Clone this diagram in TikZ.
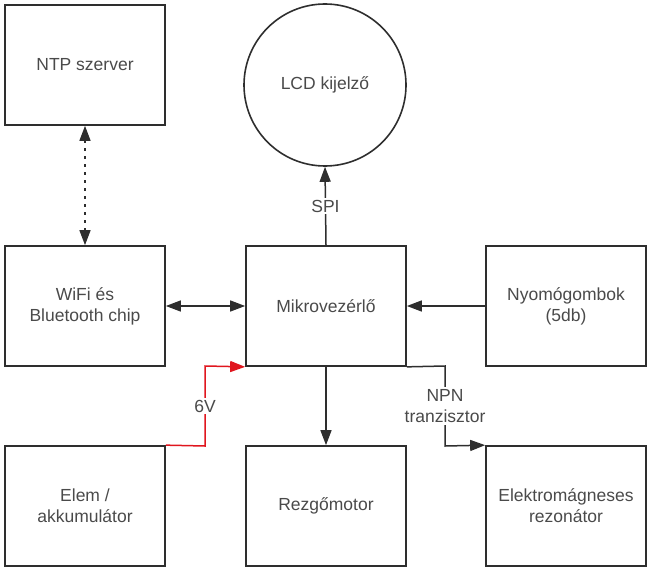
\documentclass[tikz,border=0pt]{standalone}
\usepackage{fontspec}
\setmainfont{Liberation Sans}
\usetikzlibrary{arrows.meta}
\definecolor{ln}{HTML}{2E2E2E}
\definecolor{tx}{HTML}{4A4A4A}
\definecolor{rd}{HTML}{E0161E}
\begin{document}
\begin{tikzpicture}[x=1pt,y=-1pt,
  every node/.style={text=tx,font=\fontsize{17.5}{21}\selectfont,align=center},
  blk/.style={draw=ln,line width=1.7pt,minimum width=160pt,minimum height=120pt,inner sep=0pt},
  conn/.style={draw=ln,line width=1.5pt,-{Triangle[length=15pt,width=11pt]}},
  lbl/.style={fill=white,inner sep=2pt}]
\useasboundingbox (0,0) rectangle (652,572);
\node[blk] (ntp) at (85,65) {NTP szerver};
\node[draw=ln,line width=1.6pt,circle,minimum size=162pt,inner sep=0pt] (lcd) at (325,85) {LCD kijelző};
\node[blk] (wifi) at (85,306) {WiFi és\\Bluetooth chip};
\node[blk] (mcu) at (326,306) {Mikrovezérlő};
\node[blk] (btn) at (566,306) {Nyomógombok\\(5db)};
\node[blk] (bat) at (85,506) {Elem /\\akkumulátor};
\node[blk] (mot) at (326,506) {Rezgőmotor};
\node[blk] (res) at (566,506) {Elektromágneses\\rezonátor};
\coordinate (c1) at (205,446);
\coordinate (c2) at (205,366);
\coordinate (n1) at (445,366);
\coordinate (n2) at (445,446);
% NTP <-> WiFi dotted
\draw[draw=ln,line width=1.5pt,dash pattern=on 3pt off 5pt,{Triangle[length=15pt,width=11pt]}-{Triangle[length=15pt,width=11pt]}] (ntp.south) -- (wifi.north);
% WiFi <-> MCU
\draw[draw=ln,line width=1.5pt,{Triangle[length=15pt,width=11pt]}-{Triangle[length=15pt,width=11pt]}] (wifi.east) -- (mcu.west);
% SPI
\draw[conn] (mcu.north) -- node[lbl,pos=0.5] {SPI} (lcd.south);
% buttons -> MCU
\draw[conn] (btn.west) -- (mcu.east);
% MCU -> motor
\draw[conn] (mcu.south) -- (mot.north);
% battery -> MCU (red)
\draw[draw=rd,line width=1.5pt,-{Triangle[length=15pt,width=11pt]}] (bat.north east) -- (c1) -- node[lbl,pos=0.5] {6V} (c2) -- (mcu.south west);
% NPN
\draw[conn] (mcu.south east) -- (n1) -- node[lbl,pos=0.5] {NPN\\tranzisztor} (n2) -- (res.north west);
\end{tikzpicture}
\end{document}
